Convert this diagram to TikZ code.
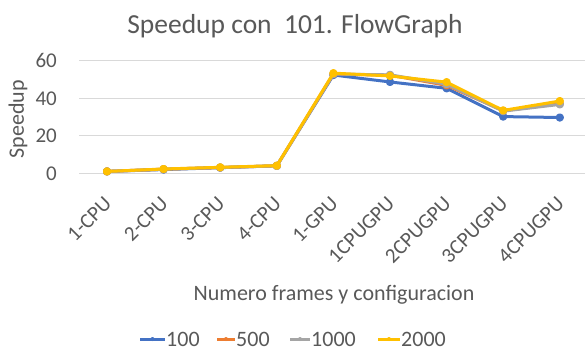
\documentclass[tikz,border=0pt]{standalone}
\usepackage{fontspec}
\usetikzlibrary{calc}
\setmainfont{Carlito}
\definecolor{txt}{HTML}{595959}
\definecolor{gridc}{HTML}{D9D9D9}
\definecolor{sblue}{HTML}{4472C4}
\definecolor{sorange}{HTML}{ED7D31}
\definecolor{sgray}{HTML}{A5A5A5}
\definecolor{syellow}{HTML}{FFC000}
\begin{document}
\begin{tikzpicture}[x=1pt,y=-1pt,
  lbl/.style={text=txt,inner sep=0pt,font=\fontsize{21}{24}\selectfont},
  ttl/.style={text=txt,inner sep=0pt,font=\fontsize{27.5}{32}\selectfont},
  axt/.style={text=txt,inner sep=0pt,font=\fontsize{22}{26}\selectfont},
  gline/.style={draw=gridc,line width=1pt},
  ser/.style={line width=3pt,line join=round,line cap=round},
  mk/.style={circle,inner sep=0pt,minimum size=4pt}]
\useasboundingbox (0,0) rectangle (585,348);
\fill[white] (0,0) rectangle (585,348);
% title
\node[ttl,anchor=base] (title) at (295,33) {Speedup con\ \ 101. FlowGraph};
% gridlines and y labels
\foreach \v/\n in {0/g0,20/g20,40/g40,60/g60}{
  \coordinate (\n l) at (79,{173.3-1.872*\v});
  \coordinate (\n r) at (585,{173.3-1.872*\v});
  \draw[gline] (\n l) -- (\n r);
  \node[lbl,anchor=east] (\n t) at (57,{173.3-1.872*\v}) {\v};
}
% y axis title
\node[axt,rotate=90] (ytitle) at (18,119) {Speedup};
% categories
\foreach \i/\c in {0/1-CPU,1/2-CPU,2/3-CPU,3/4-CPU,4/1-GPU,5/1CPUGPU,6/2CPUGPU,7/3CPUGPU,8/4CPUGPU}{
  \node[lbl,anchor=east,rotate=45] (cat\i) at ({107+56.6*\i+1},200) {\c};
}
% x axis title
\node[axt,anchor=base] (xtitle) at (334,300) {Numero frames y configuracion};
% series
\begin{scope}[shift={(107,173.3)},x=56.6pt,y=1.872pt]
\draw[sblue,ser] plot[mark=*,mark size=2.6pt] coordinates {(0,1) (1,2) (2,3) (3,4) (4,52.5) (5,48.8) (6,45.4) (7,30.3) (8,29.8)};
\draw[sorange,ser] plot[mark=*,mark size=2.6pt] coordinates {(0,1) (1,2.2) (2,3.1) (3,4) (4,53) (5,52.4) (6,47) (7,33.4) (8,37.2)};
\draw[sgray,ser] plot[mark=*,mark size=2.6pt] coordinates {(0,1) (1,2.2) (2,3.1) (3,4) (4,53) (5,52.6) (6,47.6) (7,33.2) (8,36.8)};
\draw[syellow,ser] plot[mark=*,mark size=2.6pt] coordinates {(0,1) (1,2.3) (2,3.2) (3,4.1) (4,53.5) (5,52) (6,48.7) (7,33.6) (8,38.6)};
\end{scope}
% legend
\foreach \a/\b/\col/\t/\n in {140/165/sblue/100/la,217/235/sorange/500/lb,290/310/sgray/1000/lc,378/400/syellow/2000/ld}{
  \coordinate (\n s) at (\a,339);
  \coordinate (\n e) at (\b,339);
  \draw[\col,line width=3pt] (\n s) -- (\n e);
  \node[mk,fill=\col] (\n m) at ($(\n s)!0.5!(\n e)$) {};
  \node[axt,anchor=west] (\n t) at (\b+1,339) {\t};
}
\end{tikzpicture}
\end{document}
